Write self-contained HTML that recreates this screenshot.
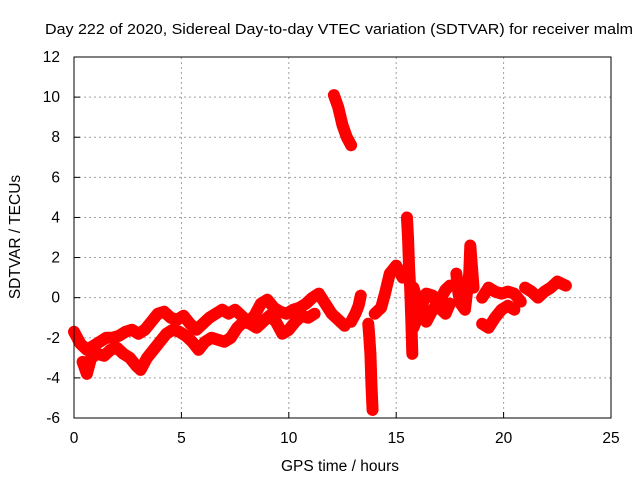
<!DOCTYPE html>
<html><head><meta charset="utf-8"><style>
body{margin:0;background:#fff}
svg{display:block;font-family:"Liberation Sans",sans-serif}
</style></head><body>
<svg id="c" width="640" height="480">
<rect width="640" height="480" fill="#fff"/>
<text x="339" y="34" text-anchor="middle" font-size="15" textLength="588" lengthAdjust="spacingAndGlyphs">Day 222 of 2020, Sidereal Day-to-day VTEC variation (SDTVAR) for receiver malm</text>
<g id="grid"></g><g id="data"></g>
<rect x="74" y="57" width="537" height="361" fill="none" stroke="#000"/>
<text x="340" y="471" text-anchor="middle" font-size="15.5">GPS time / hours</text>
<text transform="translate(20,237) rotate(-90)" text-anchor="middle" font-size="15.5">SDTVAR / TECUs</text>
</svg>
<script>
const xTicks=[0,5,10,15,20,25];
const yTicks=[-6,-4,-2,0,2,4,6,8,10,12];
const segA_h=[0,0.3,0.6,0.9,1.2,1.5,1.8,2.1,2.4,2.7,3.0,3.3,3.6,3.9,4.2,4.5,4.8,5.1,5.4,5.7,6.0,6.3,6.6,6.9,7.2,7.5,7.8,8.1,8.4,8.7,9.0,9.3,9.6,9.9,10.2,10.5,10.8,11.1,11.4,11.7,12.0,12.3,12.6];
const segA_v=[-1.7,-2.3,-2.6,-2.4,-2.2,-2.0,-2.0,-1.9,-1.7,-1.6,-1.8,-1.6,-1.2,-0.8,-0.7,-1.0,-1.1,-0.9,-1.3,-1.6,-1.3,-1.0,-0.8,-0.6,-0.8,-0.6,-0.9,-1.2,-0.9,-0.3,-0.1,-0.5,-0.7,-0.8,-0.6,-0.5,-0.3,0.0,0.2,-0.3,-0.8,-1.1,-1.4];
const segB_h=[0.4,0.6,0.8,1.1,1.4,1.7,2.0,2.3,2.6,2.9,3.1,3.4,3.7,4.0,4.3,4.6,4.9,5.2,5.5,5.8,6.1,6.4,6.7,7.0,7.3,7.6,7.9,8.2,8.5,8.8,9.1,9.4,9.7,10.0,10.3,10.6,10.9,11.2];
const segB_v=[-3.2,-3.8,-3.0,-2.8,-2.9,-2.6,-2.5,-2.8,-3.0,-3.4,-3.6,-3.0,-2.6,-2.2,-1.8,-1.6,-1.7,-1.9,-2.2,-2.6,-2.2,-2.0,-2.1,-2.2,-2.0,-1.5,-1.2,-1.3,-1.5,-1.2,-0.9,-1.2,-1.8,-1.6,-1.2,-0.9,-1.0,-0.8];
const segC_h=[12.1,12.3,12.5,12.7,12.9];
const segC_v=[10.1,9.5,8.6,8.0,7.6];
const segD_h=[12.9,13.1,13.25,13.35];
const segD_v=[-1.2,-0.8,-0.4,0.1];
const segE_h=[13.7,13.75,13.8,13.85,13.9];
const segE_v=[-1.3,-2.0,-2.8,-4.4,-5.6];
const segF_h=[14.0,14.3,14.5,14.7,15.0,15.3];
const segF_v=[-0.8,-0.5,0.3,1.2,1.6,1.0];
const segG_h=[15.5,15.55,15.6,15.65,15.7,15.75];
const segG_v=[4.0,3.0,1.5,0.5,-1.0,-2.8];
const segH_h=[15.8,16.1,16.4,16.7,17.0,17.3,17.5];
const segH_v=[0.5,-0.5,-1.2,-0.6,-0.2,0.4,0.6];
const segI_h=[15.8,16.1,16.4,16.7,17.0,17.3,17.5];
const segI_v=[-1.5,-0.7,0.2,0.1,-0.5,-0.8,-0.3];
const segJ_h=[17.8,17.9,18.0,18.2,18.4,18.45,18.6];
const segJ_v=[1.2,0.2,-0.3,-0.6,1.2,2.6,0.5];
const segK_h=[19.0,19.3,19.6,19.9,20.2,20.5,20.8];
const segK_v=[0.0,0.5,0.3,0.2,0.3,0.2,-0.2];
const segL_h=[19.0,19.3,19.6,19.9,20.2,20.5];
const segL_v=[-1.3,-1.5,-1.0,-0.6,-0.4,-0.6];
const segM_h=[21.0,21.3,21.6,21.9,22.2,22.5,22.9];
const segM_v=[0.5,0.3,0.0,0.3,0.5,0.8,0.6];
const segments=[[segA_h,segA_v],[segB_h,segB_v],[segC_h,segC_v],[segD_h,segD_v],[segE_h,segE_v],[segF_h,segF_v],[segG_h,segG_v],[segH_h,segH_v],[segI_h,segI_v],[segJ_h,segJ_v],[segK_h,segK_v],[segL_h,segL_v],[segM_h,segM_v]];
const NS="http://www.w3.org/2000/svg";
const X0=74,X1=611,Y0=418,Y1=57;
function xs(h){return X0+(h-0)/(25-0)*(X1-X0);}
function ys(v){return Y0-(v+6)/(12+6)*(Y0-Y1);}
const grid=document.getElementById('grid'),data=document.getElementById('data');
function mk(t,a,p){const e=document.createElementNS(NS,t);for(const k in a)e.setAttribute(k,a[k]);p.appendChild(e);return e;}
xTicks.forEach(t=>{
 const x=xs(t);
 if(t>0&&t<25){const l=mk('line',{x1:x,y1:Y1,x2:x,y2:Y0,stroke:'#a0a0a0','stroke-dasharray':'2,3'},grid);
 
 }
 mk('line',{x1:x,y1:Y0,x2:x,y2:Y0-6,stroke:'#000'},grid);
 const tx=mk('text',{x:x,y:443,'text-anchor':'middle','font-size':15.5},grid);tx.textContent=t;
 
 
});
yTicks.forEach(t=>{
 const y=ys(t);
 if(t>-6&&t<12){const l=mk('line',{x1:X0,y1:y,x2:X1,y2:y,stroke:'#a0a0a0','stroke-dasharray':'2,3'},grid);
 
 }
 mk('line',{x1:X0,y1:y,x2:X0+6,y2:y,stroke:'#000'},grid);
 const tx=mk('text',{x:60,y:y+5,'text-anchor':'end','font-size':15.5},grid);tx.textContent=t;
 
 
});
segments.forEach(s=>{
 const pts=s[0].map((h,i)=>xs(h)+','+ys(s[1][i])).join(' ');
 const pl=mk('polyline',{points:pts,fill:'none',stroke:'#ff0000','stroke-width':12,'stroke-linejoin':'round','stroke-linecap':'round'},data);
 
 
 s[0].forEach((h,i)=>{
  const x=xs(h),y=ys(s[1][i]);
  const p=mk('path',{d:`M${x-4},${y}H${x+4}M${x},${y-4}V${y+4}`,stroke:'#ff0000','stroke-width':1.5},data);
  
  
 });
});
</script>
</body></html>
